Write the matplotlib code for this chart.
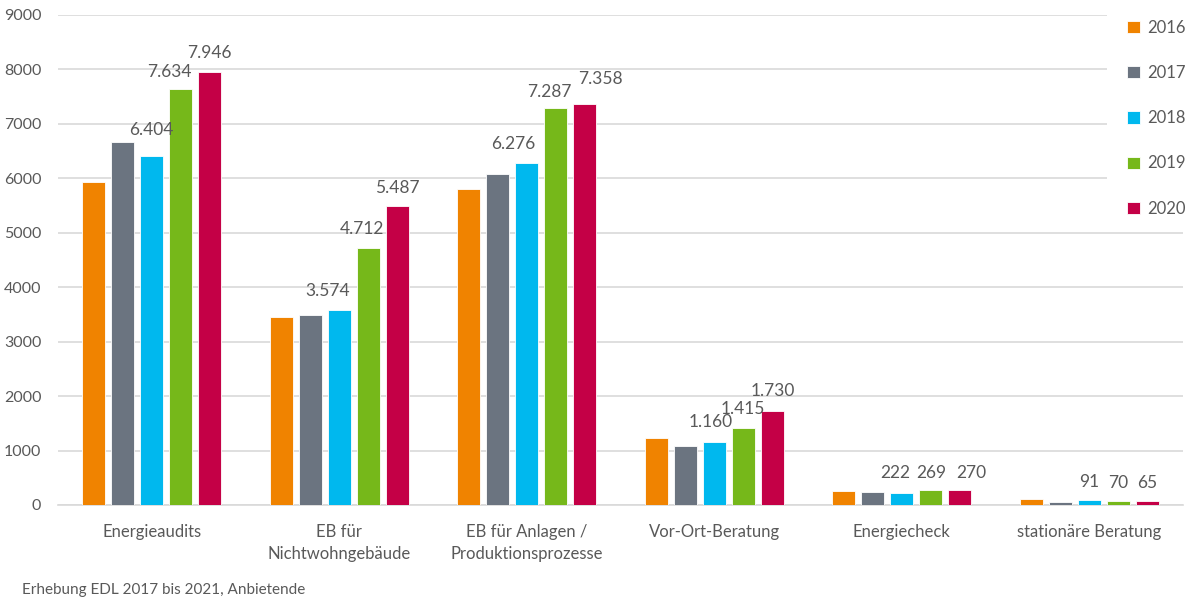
import matplotlib.pyplot as plt
from matplotlib.patches import Rectangle
import numpy as np

plt.rcParams['font.family'] = ['Lato', 'DejaVu Sans']

categories = ['Energieaudits', 'EB für\nNichtwohngebäude', 'EB für Anlagen /\nProduktionsprozesse',
              'Vor-Ort-Beratung', 'Energiecheck', 'stationäre Beratung']
years = ['2016', '2017', '2018', '2019', '2020']
values = {
    '2016': [5930, 3455, 5800, 1230, 250, 110],
    '2017': [6670, 3490, 6080, 1090, 235, 60],
    '2018': [6404, 3574, 6276, 1160, 222, 91],
    '2019': [7634, 4712, 7287, 1415, 269, 70],
    '2020': [7946, 5487, 7358, 1730, 270, 65],
}
labelled = ['2018', '2019', '2020']
colors = ['#F08300', '#6B7480', '#00B8EE', '#76B81A', '#C40046']
grey = '#595959'

# hand-placed label shifts (pixels right, pixels above bar top)
nudge = {
    (0, '2018'): (0, 26), (0, '2019'): (-11, 17), (0, '2020'): (0, 19),
    (1, '2018'): (-12, 19), (1, '2019'): (-6, 19), (1, '2020'): (0, 18),
    (2, '2018'): (-14, 19), (2, '2019'): (-6, 16), (2, '2020'): (16, 25),
    (3, '2018'): (-4, 20), (3, '2019'): (0, 19), (3, '2020'): (0, 20),
    (4, '2018'): (-7, 20), (4, '2019'): (0, 17), (4, '2020'): (11, 17),
    (5, '2018'): (0, 18), (5, '2019'): (0, 18), (5, '2020'): (0, 18),
}

fig = plt.figure(figsize=(11.9, 6.01), dpi=100)
ax = fig.add_axes([58 / 1190, 96 / 601, 1125 / 1190, 490 / 601])

x = np.arange(len(categories))
step = 0.155
width = 0.123
for i, (yr, c) in enumerate(zip(years, colors)):
    pos = x + (i - 2) * step
    bars = ax.bar(pos, values[yr], width, color=c, edgecolor='white', linewidth=0.6,
                  label=yr, zorder=3)
    if yr in labelled:
        for k, (b, v) in enumerate(zip(bars, values[yr])):
            dx, dy = nudge[(k, yr)]
            txt = f'{v:,}'.replace(',', '.')
            ax.annotate(txt, (b.get_x() + b.get_width() / 2, v), xytext=(dx * 0.72, dy * 0.72),
                        textcoords='offset points', ha='center', va='center',
                        fontsize=12.5, color=grey, zorder=4)

ax.set_xlim(-0.5, len(categories) - 0.5)
ax.set_ylim(0, 9000)
ax.set_yticks(range(0, 9001, 1000))
ax.yaxis.grid(True, color='#D9D9D9', linewidth=1.2, zorder=0)
ax.set_xticks(x)
ax.set_xticklabels(categories, fontsize=12, color=grey, linespacing=1.45)
ax.tick_params(axis='y', length=0, labelsize=11.5, labelcolor=grey, pad=12)
ax.tick_params(axis='x', length=0, pad=14)
for s in ['top', 'right', 'left']:
    ax.spines[s].set_visible(False)
ax.spines['bottom'].set_color('#D9D9D9')
ax.spines['bottom'].set_linewidth(1.2)

# white area behind the legend hides the upper gridlines
fig.patches.append(Rectangle((1107 / 1190, 1 - 232 / 601), 83 / 1190, 232 / 601,
                             transform=fig.transFigure, facecolor='white',
                             edgecolor='none', zorder=2))

handles, labels = ax.get_legend_handles_labels()
leg = fig.legend(handles, labels, loc='upper left', bbox_to_anchor=(1127 / 1190, 1 - 20 / 601),
                 frameon=False, fontsize=12, handlelength=0.75, handleheight=0.75,
                 labelspacing=1.75, handletextpad=0.45, borderpad=0.0, borderaxespad=0.0)
leg.set_zorder(5)
for t in leg.get_texts():
    t.set_color(grey)

fig.text(22 / 1190, 1 - 590 / 601, 'Erhebung EDL 2017 bis 2021, Anbietende',
         fontsize=11, color=grey, va='center')

fig.savefig('out.png', dpi=100)
